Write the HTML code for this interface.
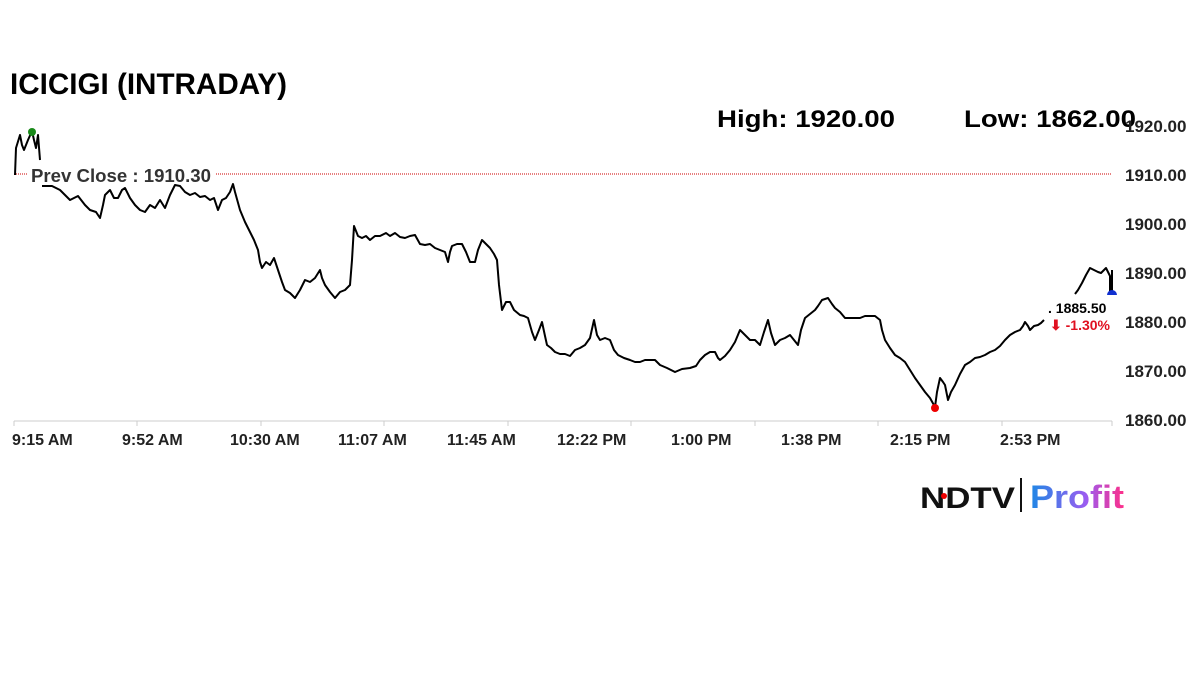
<!DOCTYPE html>
<html><head><style>
body{margin:0;background:#fff;}
svg{display:block;font-family:"Liberation Sans",sans-serif;}
</style></head><body>
<svg width="1200" height="675" xmlns="http://www.w3.org/2000/svg">
<text x="10" y="94" font-family="Liberation Sans" font-size="30" font-weight="bold" fill="#000" textLength="277" lengthAdjust="spacingAndGlyphs">ICICIGI (INTRADAY)</text>
<text x="717" y="127" font-size="24" font-weight="bold" fill="#000" textLength="178" lengthAdjust="spacingAndGlyphs">High: 1920.00</text>
<text x="964" y="127" font-size="24" font-weight="bold" fill="#000" textLength="172" lengthAdjust="spacingAndGlyphs">Low: 1862.00</text>
<g font-size="17" font-weight="bold" fill="#222">
<text x="1125" y="132">1920.00</text>
<text x="1125" y="181">1910.00</text>
<text x="1125" y="230">1900.00</text>
<text x="1125" y="279">1890.00</text>
<text x="1125" y="328">1880.00</text>
<text x="1125" y="377">1870.00</text>
<text x="1125" y="426">1860.00</text>
</g>
<line x1="14" y1="421" x2="1112" y2="421" stroke="#ccc" stroke-width="1"/>
<g stroke="#ccc">
<line x1="14" y1="421" x2="14" y2="426"/><line x1="137" y1="421" x2="137" y2="426"/><line x1="261" y1="421" x2="261" y2="426"/><line x1="384" y1="421" x2="384" y2="426"/><line x1="508" y1="421" x2="508" y2="426"/><line x1="631" y1="421" x2="631" y2="426"/><line x1="755" y1="421" x2="755" y2="426"/><line x1="878" y1="421" x2="878" y2="426"/><line x1="1002" y1="421" x2="1002" y2="426"/><line x1="1112" y1="421" x2="1112" y2="426"/>
</g>
<g font-size="16" font-weight="bold" fill="#222">
<text x="12" y="445">9:15 AM</text><text x="122" y="445">9:52 AM</text><text x="230" y="445">10:30 AM</text><text x="338" y="445">11:07 AM</text><text x="447" y="445">11:45 AM</text><text x="557" y="445">12:22 PM</text><text x="671" y="445">1:00 PM</text><text x="781" y="445">1:38 PM</text><text x="890" y="445">2:15 PM</text><text x="1000" y="445">2:53 PM</text>
</g>
<line x1="14" y1="174" x2="1112" y2="174" stroke="#c00" stroke-width="1" stroke-dasharray="1,1"/>
<rect x="28" y="164" width="188" height="22" fill="#fff"/>
<text x="31" y="182" font-size="18" font-weight="bold" fill="#333" textLength="180" lengthAdjust="spacingAndGlyphs">Prev Close : 1910.30</text>
<polyline fill="none" stroke="#000" stroke-width="2" stroke-linejoin="round" points="15,175 16,148 20,135 22,145 24,150 28,140 32,131 34,140 36,148 38,135 40,160"/>
<polyline fill="none" stroke="#000" stroke-width="2" stroke-linejoin="round" points="42,186 52,186 60,190 65,195 70,200 78,196 85,205 90,210 96,212 100,218 103,205 105,195 110,190 114,198 118,198 122,190 125,188 130,198 135,205 140,210 145,212 150,205 155,208 160,200 165,208 170,195 175,185 180,186 185,192 190,195 195,193 200,197 205,196 210,200 214,198 218,210 222,200 226,198 230,192 233,184 235,192 240,210 245,222 250,232 254,240 258,250 260,262 262,268 266,262 270,265 274,258 278,270 282,282 285,290 290,293 295,298 300,290 305,280 310,282 315,278 320,270 322,278 325,285 330,292 335,298 340,292 345,290 350,285 352,260 354,226 358,236 362,238 366,236 370,240 375,236 380,236 386,233 390,236 395,233 400,237 405,238 410,236 415,235 420,244 425,245 430,244 435,248 440,250 445,252 448,262 450,252 452,246 457,244 462,244 466,252 470,262 475,262 478,250 482,240 486,244 490,248 494,254 497,260 499,285 502,310 506,302 510,302 514,310 520,315 524,316 528,318 532,332 535,340 539,330 542,322 545,336 547,345 551,348 555,352 560,354 565,354 570,356 575,350 580,348 585,345 590,338 594,320 597,335 600,340 605,338 610,340 614,350 618,355 624,358 630,360 635,362 640,362 645,360 650,360 655,360 660,365 667,368 675,372 682,369 690,368 696,366 700,360 705,355 710,352 715,352 718,358 720,360 725,356 730,350 735,342 740,330 745,335 750,340 755,340 760,345 764,332 768,320 771,333 775,345 780,340 785,338 790,335 794,340 798,345 801,330 805,318 810,314 815,310 818,306 822,300 828,298 832,304 835,308 840,312 845,318 852,318 860,318 865,316 870,316 875,316 880,320 882,330 885,340 890,348 895,355 900,358 905,362 910,370 915,378 920,385 925,392 930,398 935,407 937,392 940,378 943,382 945,385 948,400 951,392 955,385 960,374 965,365 970,362 975,358 980,357 985,355 990,352 995,350 1000,346 1005,340 1010,335 1015,332 1020,330 1023,326 1025,322 1028,326 1030,330 1034,326 1038,325 1041,323 1044,320"/>
<polyline fill="none" stroke="#000" stroke-width="2" stroke-linejoin="round" points="1075,294 1078,290 1082,283 1086,275 1090,268 1094,270 1098,272 1101,273 1104,270 1106,268 1108,272 1110,276 1110,293 1112,293 1112,270"/>
<circle cx="32" cy="132" r="4" fill="#1a8a1a"/>
<circle cx="935" cy="408" r="4" fill="#e00"/>
<path d="M1107,295 a5,5 0 0 1 10,0 z" fill="#1030d0"/>
<text x="1048" y="313" font-size="14" font-weight="bold" fill="#000">. 1885.50</text>
<text x="1050" y="330" font-size="14" font-weight="bold" fill="#e01020">⬇ -1.30%</text>
<text x="920" y="508" font-family="Liberation Sans" font-size="30" font-weight="900" fill="#111" textLength="95" lengthAdjust="spacingAndGlyphs">NDTV</text>
<circle cx="944" cy="496" r="3" fill="#e00"/>
<line x1="1021" y1="478" x2="1021" y2="512" stroke="#111" stroke-width="2"/>
<defs><linearGradient id="g" x1="0" x2="1"><stop offset="0" stop-color="#1e88e5"/><stop offset="0.6" stop-color="#9c5cf0"/><stop offset="1" stop-color="#ff2e88"/></linearGradient></defs>
<text x="1030" y="508" font-size="32" font-weight="bold" fill="url(#g)" textLength="94" lengthAdjust="spacingAndGlyphs">Profit</text>
</svg>
</body></html>
